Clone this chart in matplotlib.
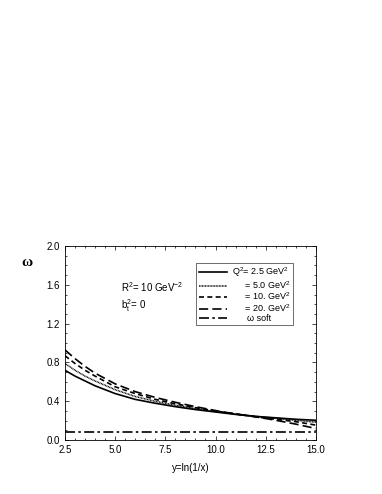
import numpy as np
import matplotlib.pyplot as plt
from matplotlib.ticker import MultipleLocator

plt.rcParams['font.family'] = ['Liberation Sans', 'DejaVu Sans']
plt.rcParams['mathtext.fontset'] = 'custom'
plt.rcParams['mathtext.rm'] = 'Liberation Sans'
plt.rcParams['mathtext.it'] = 'Liberation Sans'

# data
y = [2.5, 3.0, 3.5, 4.0, 5.0, 6.0, 7.0, 8.0, 9.0, 10.0, 11.0, 12.0, 13.0, 14.0, 15.0]
w_q25 = [0.72, 0.66, 0.61, 0.56, 0.48, 0.42, 0.38, 0.345, 0.315, 0.29, 0.265, 0.245, 0.23, 0.215, 0.205]
w_q50 = [0.79, 0.72, 0.66, 0.61, 0.52, 0.45, 0.40, 0.36, 0.325, 0.295, 0.27, 0.245, 0.225, 0.205, 0.185]
w_q10 = [0.87, 0.79, 0.72, 0.66, 0.55, 0.48, 0.42, 0.375, 0.335, 0.30, 0.27, 0.24, 0.215, 0.19, 0.155]
w_q20 = [0.93, 0.84, 0.76, 0.69, 0.58, 0.50, 0.44, 0.39, 0.345, 0.305, 0.27, 0.24, 0.205, 0.165, 0.12]
w_soft = 0.08

labels = [r'Q$^{2}$= 2.5 GeV$^{2}$', r'     = 5.0 GeV$^{2}$', r'     = 10. GeV$^{2}$',
          r'     = 20. GeV$^{2}$', '      ω soft']

fig = plt.figure(figsize=(3.82, 4.94), dpi=100)
ax = fig.add_axes([0.170, 0.109, 0.657, 0.393])

ax.plot(y, w_q25, color='black', lw=1.2, ls='-', label=labels[0])
ax.plot(y, w_q50, color='black', lw=1.1, ls=(0, (0.6, 0.4)), label=labels[1])
ax.plot(y, w_q10, color='black', lw=1.2, ls=(0, (3, 2)), label=labels[2])
ax.plot(y, w_q20, color='black', lw=1.2, ls=(0, (5.5, 2.5)), label=labels[3])
ax.plot([y[0], y[-1]], [w_soft, w_soft], color='black', lw=1.2,
        ls=(0, (6, 2, 1.5, 2)), label=labels[4])

ax.set_xlim(2.5, 15.0)
ax.set_ylim(0.0, 2.0)
ax.xaxis.set_major_locator(MultipleLocator(2.5))
ax.xaxis.set_minor_locator(MultipleLocator(0.5))
ax.yaxis.set_major_locator(MultipleLocator(0.4))
ax.yaxis.set_minor_locator(MultipleLocator(0.1))
ax.xaxis.set_major_formatter(plt.FormatStrFormatter('%.1f'))
ax.yaxis.set_major_formatter(plt.FormatStrFormatter('%.1f'))
ax.tick_params(which='both', direction='in', top=True, right=True, labelsize=7, width=0.5)
ax.tick_params(which='major', length=3)
ax.tick_params(which='minor', length=1.5)
for s in ax.spines.values():
    s.set_linewidth(0.6)

ax.set_xlabel('y=ln(1/x)', fontsize=7, labelpad=6)
fig.text(0.071, 0.468, 'ω', fontsize=11, fontweight='bold', family='Liberation Serif',
         ha='center', va='center')

ax.text(5.3, 1.58, r'R$^{2}$= 10 GeV$^{-2}$', fontsize=7, va='center')
ax.text(5.3, 1.39, r'b$_{\rm t}^{2}$= 0', fontsize=7, va='center')

leg = ax.legend(loc='upper right', bbox_to_anchor=(0.908, 0.912), fontsize=6.5,
                frameon=True, fancybox=False, edgecolor='black', handlelength=3.1,
                handletextpad=0.6, labelspacing=0.0, borderpad=0.25, borderaxespad=0)
leg.get_frame().set_linewidth(0.5)

fig.savefig('out.png', dpi=100)
